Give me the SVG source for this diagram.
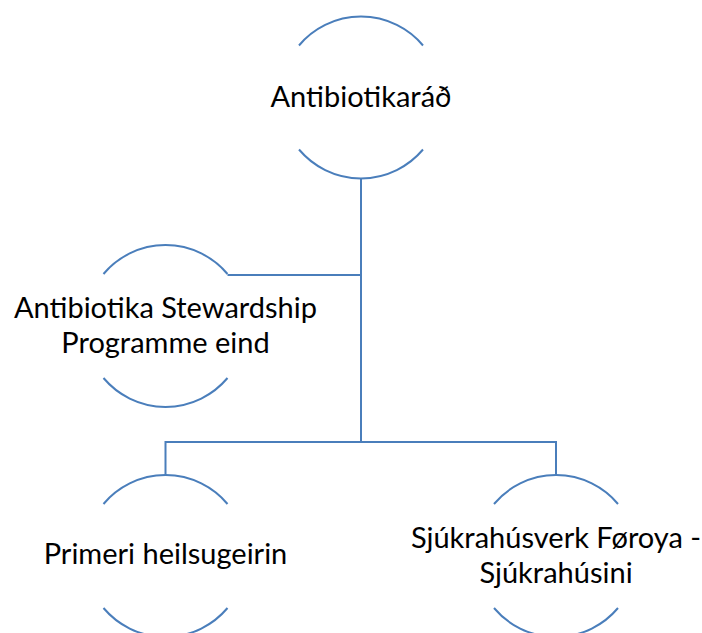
<svg xmlns="http://www.w3.org/2000/svg" width="702" height="633" viewBox="0 0 702 633">
<style>
.arc{fill:none;stroke:#4a7ebb;stroke-width:2}
.conn{fill:none;stroke:#4a7ebb;stroke-width:2}
text{font-family:Lato,"Open Sans",sans-serif;font-size:29px;fill:#000;text-anchor:middle}
</style>
<rect width="702" height="633" fill="#fff"/>
<g id="connectors">
<path class="conn" d="M361,178 V442"/>
<path class="conn" d="M227.5,275 H361"/>
<path class="conn" d="M165.5,475 V442 H556 V475"/>
</g>
<g id="node-antibiotikarad">
<path class="arc" d="M299,45.5 A81,81 0 0 1 423,45.5"/>
<path class="arc" d="M299,149.5 A81,81 0 0 0 423,149.5"/>
<text x="361" y="107">Antibiotikaráð</text>
</g>
<g id="node-asp">
<path class="arc" d="M103.5,274 A81,81 0 0 1 227.5,274"/>
<path class="arc" d="M103.5,378 A81,81 0 0 0 227.5,378"/>
<text x="165.5" y="318">Antibiotika Stewardship</text>
<text x="165.5" y="353">Programme eind</text>
</g>
<g id="node-primeri">
<path class="arc" d="M103.5,504 A81,81 0 0 1 227.5,504"/>
<path class="arc" d="M103.5,608 A81,81 0 0 0 227.5,608"/>
<text x="165.5" y="564">Primeri heilsugeirin</text>
</g>
<g id="node-sjukrahus">
<path class="arc" d="M494,504 A81,81 0 0 1 618,504"/>
<path class="arc" d="M494,608 A81,81 0 0 0 618,608"/>
<text x="556" y="548">Sjúkrahúsverk Føroya -</text>
<text x="556" y="583">Sjúkrahúsini</text>
</g>
</svg>
